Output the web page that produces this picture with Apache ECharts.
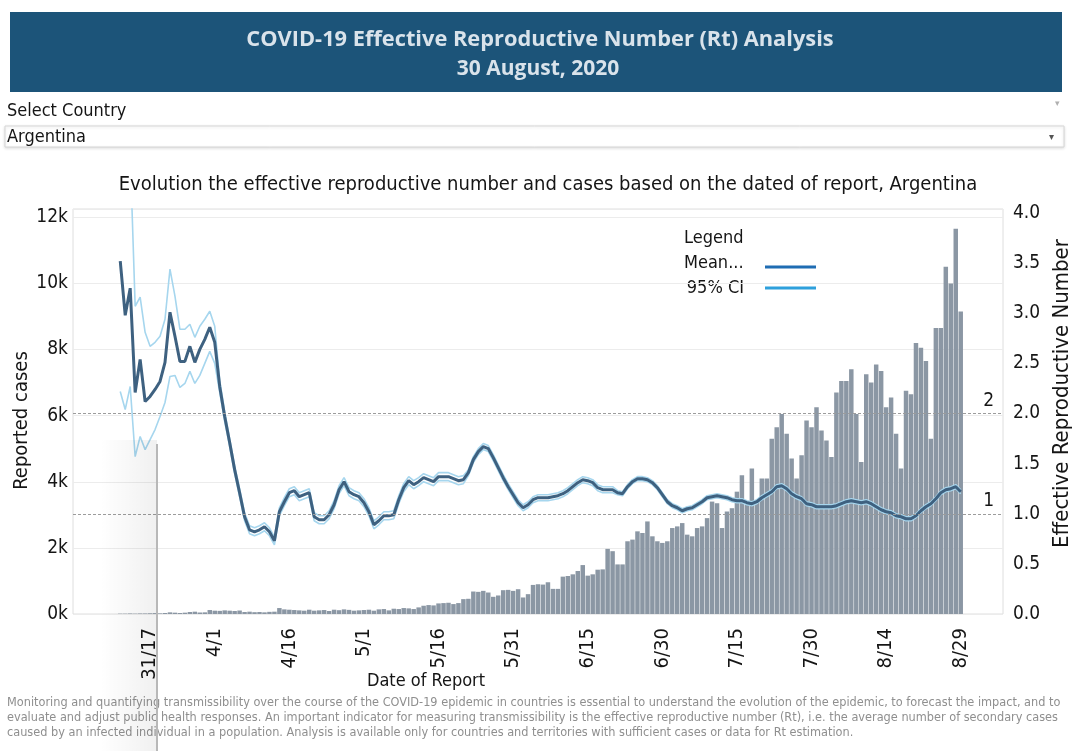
<!DOCTYPE html>
<html><head><meta charset="utf-8">
<script src="https://cdn.jsdelivr.net/npm/echarts@6/dist/echarts.min.js"></script>
<style>html,body{margin:0;padding:0;background:#fff}#c{width:1072px;height:751px}</style>
</head><body><div id="c"></div>
<script>
// ---------- data ----------
const firstDate = [2020, 3, 13]; // first day with an Rt estimate (13 March 2020)
const reportedCases = [
  10, 10, 15, 10, 15, 15, 20, 25, 20, 30,
  50, 40, 30, 40, 60, 70, 45, 50, 120, 100,
  95, 110, 100, 90, 105, 60, 70, 55, 60, 50,
  65, 70, 180, 140, 130, 120, 110, 100, 130, 100,
  110, 120, 90, 130, 115, 140, 125, 100, 110, 120,
  130, 100, 140, 150, 110, 160, 150, 180, 170, 150,
  200, 250, 270, 260, 320, 330, 340, 300, 330, 450,
  460, 680, 670, 700, 650, 520, 560, 720, 730, 700,
  750, 500, 600, 880, 900, 890, 960, 760, 760, 1130,
  1150, 1200, 1300, 1480, 1160, 1200, 1340, 1350, 1970, 1900,
  1500, 1500, 2200, 2250, 2500, 2450, 2800, 2350, 2200, 2150,
  2200, 2600, 2650, 2750, 2400, 2350, 2600, 2650, 2900, 3400,
  3350, 2600, 3100, 3200, 3700, 4200, 3300, 4400, 3400, 4100,
  4100, 5300, 5650, 6050, 5450, 4700, 4100, 4800, 5850, 5650,
  6250, 5550, 5250, 4750, 6700, 7050, 7050, 7400, 6050, 4600,
  7250, 7000, 7550, 7350, 6250, 6550, 5450, 4400, 6750, 6650,
  8200, 8050, 7650, 5300, 8650, 8650, 10500, 10000, 11650, 9150
];
const rtMean = [
  3.52, 2.98, 3.25, 2.21, 2.54, 2.12, 2.17, 2.24, 2.32, 2.51,
  3.01, 2.77, 2.52, 2.52, 2.67, 2.51, 2.64, 2.74, 2.86, 2.71,
  2.27, 1.97, 1.71, 1.44, 1.21, 0.97, 0.84, 0.82, 0.84, 0.87,
  0.82, 0.73, 1.02, 1.12, 1.21, 1.23, 1.17, 1.19, 1.21, 0.97,
  0.94, 0.94, 0.99, 1.09, 1.24, 1.32, 1.22, 1.19, 1.17, 1.11,
  1.02, 0.89, 0.93, 0.98, 0.98, 0.99, 1.14, 1.26, 1.33, 1.29,
  1.32, 1.36, 1.34, 1.32, 1.37, 1.37, 1.37, 1.35, 1.33, 1.34,
  1.41, 1.54, 1.62, 1.67, 1.65, 1.56, 1.46, 1.36, 1.27, 1.19,
  1.11, 1.06, 1.09, 1.14, 1.16, 1.16, 1.16, 1.17, 1.18, 1.20,
  1.23, 1.27, 1.31, 1.34, 1.33, 1.31, 1.26, 1.24, 1.24, 1.24,
  1.21, 1.20, 1.27, 1.32, 1.35, 1.35, 1.34, 1.31, 1.26, 1.19,
  1.12, 1.08, 1.06, 1.03, 1.05, 1.06, 1.09, 1.12, 1.16, 1.17,
  1.18, 1.17, 1.16, 1.14, 1.13, 1.13, 1.11, 1.10, 1.12, 1.16,
  1.19, 1.22, 1.27, 1.28, 1.25, 1.20, 1.17, 1.15, 1.10, 1.09,
  1.07, 1.07, 1.07, 1.07, 1.08, 1.10, 1.12, 1.13, 1.12, 1.11,
  1.12, 1.10, 1.07, 1.04, 1.02, 1.01, 0.98, 0.97, 0.95, 0.95,
  0.98, 1.03, 1.07, 1.10, 1.15, 1.21, 1.24, 1.25, 1.27, 1.22
];
const rtUpper = [
  4.6, 4.4, 4.6, 3.07, 3.16, 2.81, 2.67, 2.71, 2.77, 2.94,
  3.44, 3.17, 2.84, 2.84, 2.89, 2.76, 2.87, 2.94, 3.02, 2.87,
  2.33, 2.02, 1.75, 1.48, 1.25, 1.01, 0.88, 0.86, 0.88, 0.91,
  0.86, 0.77, 1.06, 1.16, 1.25, 1.27, 1.21, 1.23, 1.25, 1.01,
  0.98, 0.98, 1.03, 1.13, 1.28, 1.36, 1.26, 1.23, 1.21, 1.15,
  1.06, 0.93, 0.97, 1.02, 1.02, 1.03, 1.18, 1.30, 1.37, 1.33,
  1.36, 1.40, 1.38, 1.36, 1.41, 1.41, 1.41, 1.39, 1.37, 1.38,
  1.44, 1.57, 1.65, 1.70, 1.68, 1.59, 1.49, 1.39, 1.30, 1.22,
  1.14, 1.09, 1.12, 1.17, 1.19, 1.19, 1.19, 1.20, 1.21, 1.23,
  1.26, 1.30, 1.34, 1.37, 1.36, 1.34, 1.29, 1.27, 1.27, 1.27,
  1.23, 1.22, 1.29, 1.34, 1.37, 1.37, 1.36, 1.33, 1.28, 1.21,
  1.14, 1.10, 1.08, 1.05, 1.07, 1.08, 1.11, 1.14, 1.18, 1.19,
  1.20, 1.19, 1.18, 1.16, 1.15, 1.15, 1.13, 1.12, 1.14, 1.18,
  1.21, 1.24, 1.29, 1.30, 1.27, 1.22, 1.19, 1.17, 1.12, 1.11,
  1.09, 1.09, 1.09, 1.09, 1.10, 1.12, 1.14, 1.15, 1.14, 1.13,
  1.14, 1.12, 1.09, 1.06, 1.04, 1.03, 1.00, 0.99, 0.97, 0.97,
  1.00, 1.05, 1.09, 1.12, 1.17, 1.23, 1.26, 1.27, 1.29, 1.24
];
const rtLower = [
  2.22, 2.04, 2.27, 1.57, 1.77, 1.64, 1.74, 1.84, 1.97, 2.11,
  2.37, 2.38, 2.26, 2.30, 2.42, 2.30, 2.38, 2.50, 2.62, 2.50,
  2.21, 1.92, 1.67, 1.40, 1.17, 0.93, 0.80, 0.78, 0.80, 0.83,
  0.78, 0.69, 0.98, 1.08, 1.17, 1.19, 1.13, 1.15, 1.17, 0.93,
  0.90, 0.90, 0.95, 1.05, 1.20, 1.28, 1.18, 1.15, 1.13, 1.07,
  0.98, 0.85, 0.89, 0.94, 0.94, 0.95, 1.10, 1.22, 1.29, 1.25,
  1.28, 1.32, 1.30, 1.28, 1.33, 1.33, 1.33, 1.31, 1.29, 1.30,
  1.38, 1.51, 1.59, 1.64, 1.62, 1.53, 1.43, 1.33, 1.24, 1.16,
  1.08, 1.03, 1.06, 1.11, 1.13, 1.13, 1.13, 1.14, 1.15, 1.17,
  1.20, 1.24, 1.28, 1.31, 1.30, 1.28, 1.23, 1.21, 1.21, 1.21,
  1.19, 1.18, 1.25, 1.30, 1.33, 1.33, 1.32, 1.29, 1.24, 1.17,
  1.10, 1.06, 1.04, 1.01, 1.03, 1.04, 1.07, 1.10, 1.14, 1.15,
  1.16, 1.15, 1.14, 1.12, 1.11, 1.11, 1.09, 1.08, 1.10, 1.14,
  1.17, 1.20, 1.25, 1.26, 1.23, 1.18, 1.15, 1.13, 1.08, 1.07,
  1.05, 1.05, 1.05, 1.05, 1.06, 1.08, 1.10, 1.11, 1.10, 1.09,
  1.10, 1.08, 1.05, 1.02, 1.00, 0.99, 0.96, 0.95, 0.93, 0.93,
  0.96, 1.01, 1.05, 1.08, 1.13, 1.19, 1.22, 1.23, 1.25, 1.20
];
const tickPositions = ['3/19', '4/1', '4/16', '5/1', '5/16', '5/31', '6/15', '6/30', '7/15', '7/30', '8/14', '8/29'];
const tickTexts     = ['31/17', '4/1', '4/16', '5/1', '5/16', '5/31', '6/15', '6/30', '7/15', '7/30', '8/14', '8/29'];
const rtThresholds = [2, 1];
const footnoteLines = [
  'Monitoring and quantifying transmissibility over the course of the COVID-19 epidemic in countries is essential to understand the evolution of the epidemic, to forecast the impact, and to',
  'evaluate and adjust public health responses. An important indicator for measuring transmissibility is the effective reproductive number (Rt), i.e. the average number of secondary cases',
  'caused by an infected individual in a population. Analysis is available only for countries and territories with sufficient cases or data for Rt estimation.'
];

// ---------- build axis categories (empty days padding both ends of the axis) ----------
const PAD_BEFORE = 9, PAD_AFTER = 8;
const categories = [];
const t0 = Date.UTC(firstDate[0], firstDate[1] - 1, firstDate[2] - PAD_BEFORE);
for (let k = 0; k < PAD_BEFORE + reportedCases.length + PAD_AFTER; k++) {
  const d = new Date(t0 + k * 86400000);
  categories.push((d.getUTCMonth() + 1) + '/' + d.getUTCDate());
}
const pad = arr => new Array(PAD_BEFORE).fill(null).concat(arr, new Array(PAD_AFTER).fill(null));

const NARROW = "'Liberation Sans Narrow','Arial Narrow','DejaVu Sans Condensed',sans-serif";
const TXT = '#151515';

const chart = echarts.init(document.getElementById('c'), null, { renderer: 'canvas' });
chart.setOption({
  animation: false,
  backgroundColor: '#ffffff',
  grid: { left: 73, right: 69, top: 209, bottom: 137, show: true, borderColor: '#dedede', borderWidth: 1,
    containLabel: false, outerBoundsMode: 'none' },
  xAxis: {
    type: 'category', data: categories, boundaryGap: true,
    axisLine: { show: false }, axisTick: { show: false },
    axisLabel: {
      rotate: 90, margin: 14, fontSize: 20, fontFamily: NARROW, color: TXT,
      interval: (idx, val) => tickPositions.indexOf(val) >= 0,
      formatter: val => tickTexts[tickPositions.indexOf(val)] || ''
    },
    splitLine: { show: false }
  },
  yAxis: [
    {
      type: 'value', position: 'left', min: 0, max: 12250, interval: 2000,
      name: 'Reported cases', nameLocation: 'middle', nameGap: 41, nameMoveOverlap: false,
      nameTextStyle: { fontSize: 20, fontFamily: NARROW, color: TXT, padding: [0, 18, 0, 0] },
      axisLine: { show: false }, axisTick: { show: false },
      axisLabel: { margin: 5, fontSize: 19, fontFamily: NARROW, color: TXT, showMaxLabel: false,
        formatter: v => (v / 1000) + 'k' },
      splitLine: { lineStyle: { color: '#ececec', width: 1 } }
    },
    {
      type: 'value', position: 'right', min: 0, max: 4.04, interval: 0.5,
      name: 'Effective Reproductive Number', nameLocation: 'middle', nameGap: 47,
      nameTextStyle: { fontSize: 22, fontFamily: NARROW, color: TXT, padding: [0, 0, 0, 36] },
      axisLine: { show: false }, axisTick: { show: false },
      axisLabel: { margin: 10, fontSize: 19, fontFamily: NARROW, color: TXT, showMaxLabel: false,
        formatter: v => v.toFixed(1) },
      splitLine: { show: false }
    }
  ],
  series: [
    {
      name: 'Reported cases', type: 'bar', yAxisIndex: 0, data: pad(reportedCases),
      barCategoryGap: '10%', itemStyle: { color: '#8b97a4' }, z: 1
    },
    {
      name: '95% CI lower', type: 'line', yAxisIndex: 1, data: pad(rtLower),
      symbol: 'none', lineStyle: { color: '#a6d6ee', width: 1.6 }, z: 3
    },
    {
      name: '95% CI upper', type: 'line', yAxisIndex: 1, data: pad(rtUpper),
      symbol: 'none', lineStyle: { color: '#a6d6ee', width: 1.6 }, z: 3
    },
    {
      name: 'Mean', type: 'line', yAxisIndex: 1, data: pad(rtMean),
      symbol: 'none', lineStyle: { color: '#3e6180', width: 3 }, z: 4,
      markLine: {
        silent: true, symbol: 'none',
        lineStyle: { color: '#9c9c9c', type: [3, 2], width: 1.2 },
        label: { position: 'insideEndTop', distance: [9, 3], fontSize: 19, fontFamily: NARROW, color: TXT,
          formatter: p => String(p.value) },
        data: rtThresholds.map(v => ({ yAxis: v }))
      }
    }
  ],
  graphic: [
    // header banner
    { type: 'rect', shape: { x: 10, y: 12, width: 1052, height: 80 }, style: { fill: '#1c5479' }, silent: true },
    { type: 'text', x: 540, y: 40, style: { text: 'COVID-19 Effective Reproductive Number (Rt) Analysis', fill: '#d9e3eb',
      font: "bold 21.8px 'Open Sans', sans-serif", textAlign: 'center', textVerticalAlign: 'middle' } },
    { type: 'text', x: 538, y: 69, style: { text: '30 August, 2020', fill: '#d9e3eb',
      font: "bold 21px 'Open Sans', sans-serif", textAlign: 'center', textVerticalAlign: 'middle' } },
    // country selector
    { type: 'text', x: 7, y: 111, style: { text: 'Select Country', fill: TXT, font: "18px " + NARROW, textVerticalAlign: 'middle' } },
    { type: 'text', x: 1057, y: 104, style: { text: '▾', fill: '#b0b0b0', font: "9px sans-serif", textAlign: 'center', textVerticalAlign: 'middle' } },
    { type: 'rect', shape: { x: 5, y: 126, width: 1059, height: 21 }, style: { fill: '#ffffff', stroke: '#d6d6d6', lineWidth: 1,
      shadowColor: 'rgba(0,0,0,0.12)', shadowBlur: 3, shadowOffsetY: 1 } },
    { type: 'text', x: 7, y: 137, style: { text: 'Argentina', fill: TXT, font: "18px " + NARROW, textVerticalAlign: 'middle' } },
    { type: 'text', x: 1051, y: 137, style: { text: '▾', fill: '#555555', font: "10px sans-serif", textAlign: 'center', textVerticalAlign: 'middle' } },
    // chart title
    { type: 'text', x: 548, y: 185, style: { text: 'Evolution the effective reproductive number and cases based on the dated of report, Argentina',
      fill: TXT, font: "20px " + NARROW, textAlign: 'center', textVerticalAlign: 'middle' } },
    // legend
    { type: 'text', x: 684, y: 238, style: { text: 'Legend', fill: TXT, font: "18px " + NARROW, textVerticalAlign: 'middle' } },
    { type: 'text', x: 684, y: 263, style: { text: 'Mean...', fill: TXT, font: "18px " + NARROW, textVerticalAlign: 'middle' } },
    { type: 'text', x: 744, y: 288, style: { text: '95% CI', fill: TXT, font: "18px " + NARROW, textAlign: 'right', textVerticalAlign: 'middle' } },
    { type: 'line', shape: { x1: 765, y1: 267, x2: 816, y2: 267 }, style: { stroke: '#1f6db3', lineWidth: 3 } },
    { type: 'line', shape: { x1: 765, y1: 288, x2: 816, y2: 288 }, style: { stroke: '#2ea0dc', lineWidth: 3 } },
    // x axis title
    { type: 'text', x: 426, y: 681, style: { text: 'Date of Report', fill: TXT, font: "18px " + NARROW, textAlign: 'center', textVerticalAlign: 'middle' } },
    // footnote
    ...footnoteLines.map((t, k) => ({ type: 'text', x: 7, y: 703 + k * 15,
      style: { text: t, fill: '#8f8f8f', font: "12.6px " + NARROW, textVerticalAlign: 'middle' } })),
    // hover-guide artefact visible in the reference
    { type: 'rect', z: 100, shape: { x: 100, y: 440, width: 57, height: 311 }, silent: true,
      style: { fill: new echarts.graphic.LinearGradient(0, 0, 1, 0, [
        { offset: 0, color: 'rgba(0,0,0,0)' }, { offset: 1, color: 'rgba(0,0,0,0.06)' }]) } },
    { type: 'line', z: 101, shape: { x1: 157, y1: 444, x2: 157, y2: 751 }, silent: true, style: { stroke: '#b8b8b8', lineWidth: 2 } }
  ]
});
</script>
</body></html>
